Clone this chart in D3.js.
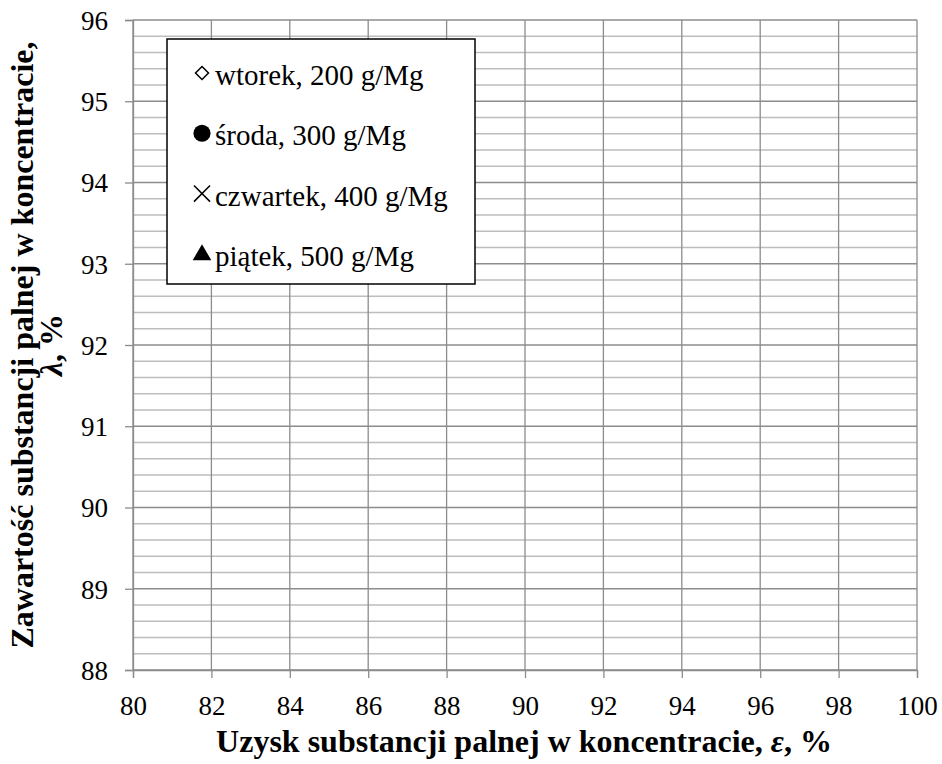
<!DOCTYPE html>
<html>
<head>
<meta charset="utf-8">
<script src="https://cdn.jsdelivr.net/npm/d3@7"></script>
<style>
  body { margin: 0; background: #fff; }
  svg text { font-family: "Liberation Serif", "Times New Roman", serif !important; }
</style>
</head>
<body>
<script>
// Series shown in the legend (the plot itself carries no points)
const seriesNames = ["wtorek, 200 g/Mg", "środa, 300 g/Mg", "czwartek, 400 g/Mg", "piątek, 500 g/Mg"];
const seriesSymbols = ["diamond", "circle", "cross", "triangle"];
const wtorekData = [];
const srodaData = [];
const czwartekData = [];
const piatekData = [];
const allSeries = [wtorekData, srodaData, czwartekData, piatekData];

const xTicks = [80, 82, 84, 86, 88, 90, 92, 94, 96, 98, 100];
const yTicks = [88, 89, 90, 91, 92, 93, 94, 95, 96];

const SERIF = "Liberation Serif";

const width = 942;
const height = 764;
const margin = { top: 20, right: 25, bottom: 94, left: 133 };
const innerWidth = width - margin.left - margin.right;
const innerHeight = height - margin.top - margin.bottom;

const svg = d3.select("body").append("svg")
  .attr("width", width)
  .attr("height", height)
  .attr("font-family", SERIF);

const g = svg.append("g")
  .attr("transform", `translate(${margin.left}, ${margin.top})`);

const xScale = d3.scaleLinear().domain([80, 100]).range([0, innerWidth]);
const yScale = d3.scaleLinear().domain([88, 96]).range([innerHeight, 0]);

// minor horizontal gridlines every 0.2
const minorY = d3.range(88, 96.001, 0.2).filter(v => Math.abs(v - Math.round(v)) > 0.01);
g.append("g").selectAll("line")
  .data(minorY)
  .enter().append("line")
  .attr("x1", 0).attr("x2", innerWidth)
  .attr("y1", d => yScale(d)).attr("y2", d => yScale(d))
  .attr("stroke", "#bdbdbd").attr("stroke-width", 1.3);

// major gridlines
g.append("g").selectAll("line")
  .data(yTicks)
  .enter().append("line")
  .attr("x1", 0).attr("x2", innerWidth)
  .attr("y1", d => yScale(d)).attr("y2", d => yScale(d))
  .attr("stroke", "#8c8c8c").attr("stroke-width", 1.3);

g.append("g").selectAll("line")
  .data(xTicks)
  .enter().append("line")
  .attr("x1", d => xScale(d)).attr("x2", d => xScale(d))
  .attr("y1", 0).attr("y2", innerHeight)
  .attr("stroke", "#8c8c8c").attr("stroke-width", 1.3);

// axes
const xAxis = d3.axisBottom(xScale).tickValues(xTicks).tickSize(8).tickPadding(6).tickFormat(d3.format("d"));
const yAxis = d3.axisLeft(yScale).tickValues(yTicks).tickSize(8).tickPadding(17).tickFormat(d3.format("d"));

const gx = g.append("g")
  .attr("transform", `translate(0, ${innerHeight})`)
  .call(xAxis);
const gy = g.append("g").call(yAxis);

[gx, gy].forEach(a => {
  a.attr("font-family", SERIF).attr("font-size", 27);
  a.select(".domain").attr("stroke", "#8c8c8c").attr("stroke-width", 1.3);
  a.selectAll(".tick line").attr("stroke", "#8c8c8c").attr("stroke-width", 1.3);
  a.selectAll(".tick text")
    .attr("fill", "#000")
    .attr("font-family", SERIF)
    .style("font-family", `"${SERIF}", serif`)
    .style("font-size", "27px");
});
gx.selectAll(".tick text").attr("dy", null).attr("y", 45);
gy.selectAll(".tick text").attr("dy", "0.35em");

// data points (none in this chart)
const symbolTypes = {
  diamond: d3.symbolDiamond, circle: d3.symbolCircle,
  cross: d3.symbolTimes, triangle: d3.symbolTriangle
};
allSeries.forEach((data, i) => {
  g.append("g").selectAll("path")
    .data(data)
    .enter().append("path")
    .attr("transform", d => `translate(${xScale(d[0])}, ${yScale(d[1])})`)
    .attr("d", d3.symbol().type(symbolTypes[seriesSymbols[i]]).size(80))
    .attr("fill", seriesSymbols[i] === "diamond" ? "#fff" : "#000")
    .attr("stroke", "#000");
});

// legend
const legend = svg.append("g").attr("transform", "translate(167, 39)");
legend.append("rect")
  .attr("width", 308).attr("height", 245)
  .attr("fill", "#fff").attr("stroke", "#000").attr("stroke-width", 1.5);

seriesNames.forEach((name, i) => {
  const cy = 34 + i * 60.3;
  const sym = seriesSymbols[i];
  const item = legend.append("g").attr("transform", `translate(35, ${cy})`);
  if (sym === "diamond") {
    item.append("path")
      .attr("d", "M0,-6.5L6.5,0L0,6.5L-6.5,0Z")
      .attr("fill", "#fff").attr("stroke", "#000").attr("stroke-width", 1.5);
  } else if (sym === "circle") {
    item.append("path")
      .attr("d", d3.symbol().type(d3.symbolCircle).size(230))
      .attr("fill", "#000");
  } else if (sym === "cross") {
    item.append("path")
      .attr("d", d3.symbol().type(d3.symbolTimes).size(170))
      .attr("fill", "none").attr("stroke", "#000").attr("stroke-width", 1.5);
  } else {
    item.append("path")
      .attr("transform", "translate(0, 1)")
      .attr("d", d3.symbol().type(d3.symbolTriangle).size(150))
      .attr("fill", "#000");
  }
  legend.append("text")
    .attr("x", 48).attr("y", cy + 12)
    .attr("font-size", "29px")
    .text(name);
});

// axis titles
const xTitle = svg.append("text")
  .attr("x", 524).attr("y", 752)
  .attr("text-anchor", "middle")
  .attr("font-size", "32px").attr("font-weight", "bold");
xTitle.append("tspan").text("Uzysk substancji palnej w koncentracie, ");
xTitle.append("tspan").attr("font-style", "italic").text("ε");
xTitle.append("tspan").text(", %");

const yTitle = svg.append("g").attr("transform", "translate(0, 345) rotate(-90)");
yTitle.append("text")
  .attr("x", 0).attr("y", 33)
  .attr("text-anchor", "middle")
  .attr("font-size", "32px").attr("font-weight", "bold")
  .text("Zawartość substancji palnej w koncentracie,");
const yt2 = yTitle.append("text")
  .attr("x", 0).attr("y", 62)
  .attr("text-anchor", "middle")
  .attr("font-size", "32px").attr("font-weight", "bold");
yt2.append("tspan").attr("font-style", "italic").text("λ");
yt2.append("tspan").text(", %");
</script>
</body>
</html>
